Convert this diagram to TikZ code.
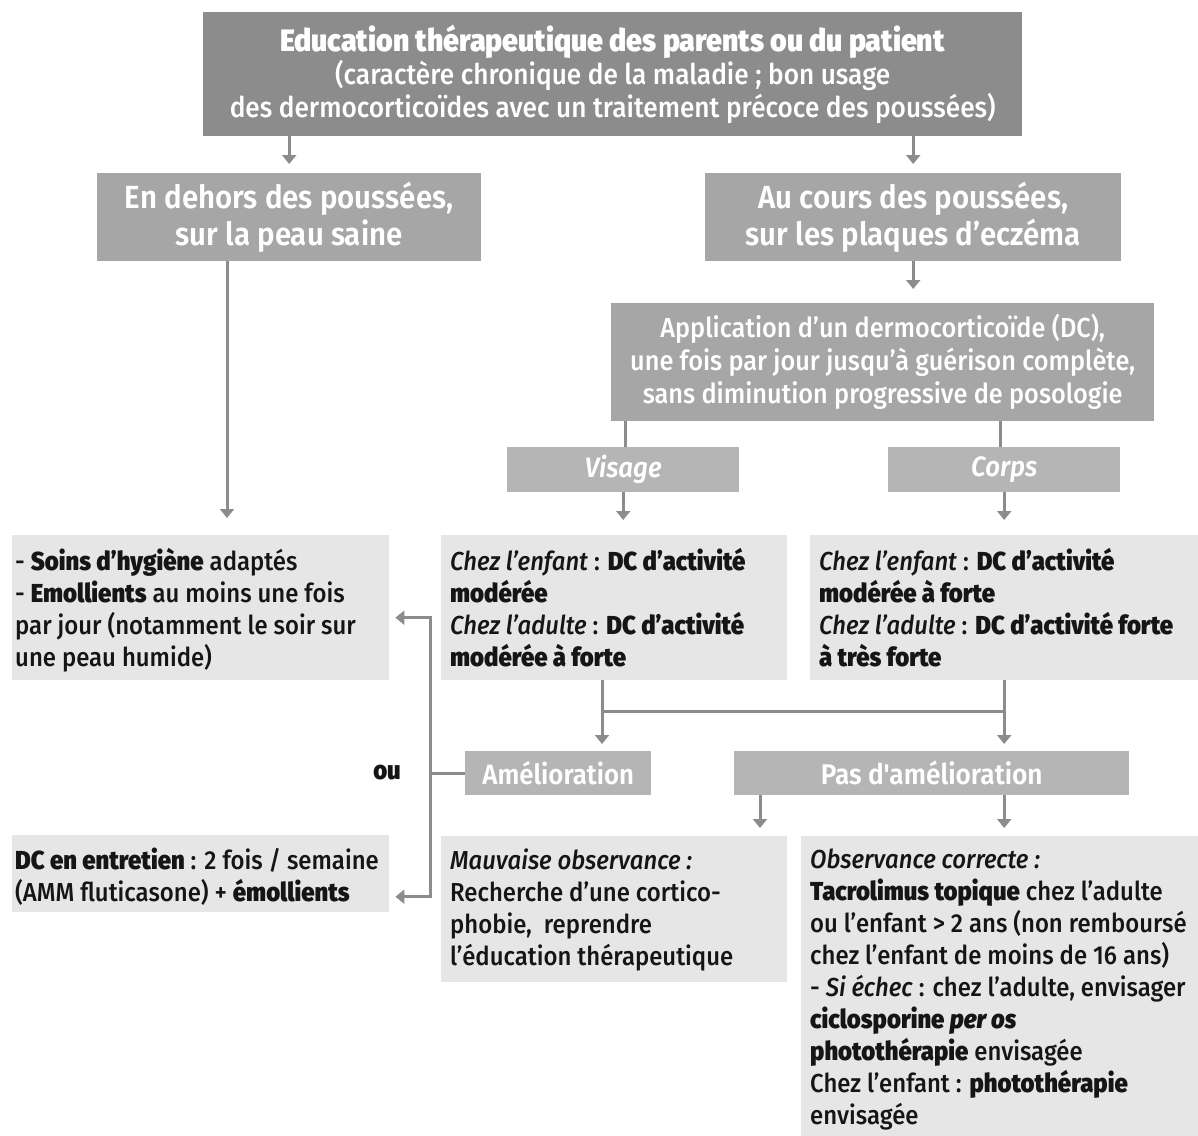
\documentclass[tikz,border=0pt]{standalone}
\usepackage{fontspec}
\setmainfont{Fira Sans Medium}[FakeStretch=0.92,
  BoldFont=Fira Sans Black, ItalicFont=Fira Sans Medium Italic,
  BoldItalicFont=Fira Sans Black Italic]
\newfontfamily\semib{Fira Sans SemiBold}[FakeStretch=0.92, ItalicFont=Fira Sans SemiBold Italic]
\usetikzlibrary{arrows.meta}
\definecolor{cTop}{HTML}{8C8C8C}
\definecolor{cMid}{HTML}{A6A6A6}
\definecolor{cLab}{HTML}{B5B5B5}
\definecolor{cLight}{HTML}{E6E6E6}
\definecolor{cArr}{HTML}{8C8C8C}
\definecolor{cTxt}{HTML}{151515}
\tikzset{
  box/.style={anchor=north west, inner sep=0pt, draw=none},
  topbox/.style={box, fill=cTop, text=white, align=center},
  midbox/.style={box, fill=cMid, text=white, align=center},
  labbox/.style={box, fill=cLab, text=white, align=center},
  lightbox/.style={box, fill=cLight},
  txt/.style={anchor=north west, inner sep=0pt, align=left, text=cTxt, font=\fontsize{26}{32}\selectfont},
  conn/.style={draw=cArr, line width=3pt},
  arr/.style={conn, -{Triangle[width=14pt,length=9pt]}},
}
\begin{document}
\begin{tikzpicture}[x=1pt,y=-1pt]
\useasboundingbox (0,0) rectangle (1198,1135);

% top box
\node[topbox, minimum width=819pt, minimum height=124pt, font=\fontsize{28.5}{33}\selectfont] (top) at (203,12)
 {{\fontsize{31}{33}\selectfont\textbf{Education thérapeutique des parents ou du patient}}\\
  (caractère chronique de la maladie ; bon usage\\
  des dermocorticoïdes avec un traitement précoce des poussées)};

\node[midbox, minimum width=384pt, minimum height=88pt, font=\fontsize{32}{37}\semib] (dehors) at (97,173)
 {En dehors des poussées,\\ sur la peau saine};
\node[midbox, minimum width=416pt, minimum height=88pt, font=\fontsize{32}{37}\semib] (cours) at (705,173)
 {Au cours des poussées,\\ sur les plaques d’eczéma};

\node[midbox, minimum width=543pt, minimum height=118pt, font=\fontsize{27.5}{33}\selectfont] (appl) at (611,303)
 {Application d’un dermocorticoïde (DC),\\
  une fois par jour jusqu’à guérison complète,\\
  sans diminution progressive de posologie};

\node[labbox, minimum width=232pt, minimum height=45pt, font=\fontsize{28}{33}\semib\itshape] (visage) at (507,447) {Visage};
\node[labbox, minimum width=232pt, minimum height=45pt, font=\fontsize{28}{33}\semib\itshape] (corps) at (888,447) {Corps};

% light boxes
\node[lightbox, minimum width=377pt, minimum height=145pt] (soins) at (12,535) {};
\node[txt] (soinsT) at ([xshift=3pt,yshift=-13pt]soins.north west)
 {- \textbf{Soins d'hygiène} adaptés\\
  - \textbf{Emollients} au moins une fois\\
  par jour (notamment le soir sur\\
  une peau humide)};

\node[lightbox, minimum width=346pt, minimum height=145pt] (vis) at (441,535) {};
\node[txt] (visT) at ([xshift=9pt,yshift=-13pt]vis.north west)
 {\textit{Chez l'enfant} : \textbf{DC d'activité}\\
  \textbf{modérée}\\
  \textit{Chez l'adulte} : \textbf{DC d'activité}\\
  \textbf{modérée à forte}};

\node[lightbox, minimum width=400pt, minimum height=145pt] (cor) at (810,535) {};
\node[txt] (corT) at ([xshift=9pt,yshift=-13pt]cor.north west)
 {\textit{Chez l'enfant} : \textbf{DC d'activité}\\
  \textbf{modérée à forte}\\
  \textit{Chez l'adulte} : \textbf{DC d'activité forte}\\
  \textbf{à très forte}};

\node[labbox, minimum width=186pt, minimum height=44pt, font=\fontsize{28}{33}\semib] (amel) at (465,751) {Amélioration};
\node[labbox, minimum width=395pt, minimum height=44pt, font=\fontsize{28.5}{33}\semib] (pas) at (734,751) {Pas d'amélioration};

\node[lightbox, minimum width=377pt, minimum height=77pt] (entr) at (12,835) {};
\node[txt] (entrT) at ([xshift=3pt,yshift=-13pt]entr.north west)
 {\textbf{DC en entretien} : 2 fois / semaine\\
  (AMM fluticasone) + \textbf{émollients}};

\node[lightbox, minimum width=346pt, minimum height=146pt] (mauv) at (441,836) {};
\node[txt] (mauvT) at ([xshift=9pt,yshift=-13pt]mauv.north west)
 {\textit{Mauvaise observance :}\\
  Recherche d’une cortico-\\
  phobie,\ \ reprendre\\
  l’éducation thérapeutique};

\node[lightbox, minimum width=410pt, minimum height=300pt] (obs) at (801,836) {};
\node[txt] (obsT) at ([xshift=9pt,yshift=-13pt]obs.north west)
 {\textit{Observance correcte :}\\
  \textbf{Tacrolimus topique} chez l'adulte\\
  ou l'enfant > 2 ans (non remboursé\\
  chez l'enfant de moins de 16 ans)\\
  - \textit{Si échec} : chez l'adulte, envisager\\
  \textbf{ciclosporine \textit{per os}}\\
  \textbf{photothérapie} envisagée\\
  Chez l'enfant : \textbf{photothérapie}\\
  envisagée};

\node[anchor=center, inner sep=0pt, text=cTxt, font=\fontsize{26}{32}\selectfont\bfseries] (ou) at (387,773) {ou};

% connectors
\draw[arr, shorten >=9pt] (top.south -| dehors.north) -- (dehors.north);
\draw[arr, shorten >=9pt] (top.south -| cours.north) -- (cours.north);
\draw[arr, shorten >=14pt] (cours.south) -- (appl.north -| cours.south);
\coordinate (dx) at ([xshift=130pt]dehors.south west);
\draw[arr, shorten >=17pt] (dx) -- (dx |- soins.north);
\coordinate (ax) at ([xshift=14pt]appl.south west);
\draw[conn] (ax) -- (ax |- visage.north);
\coordinate (bx) at ([xshift=-154pt]appl.south east);
\draw[conn] (bx) -- (bx |- corps.north);
\draw[arr, shorten >=15pt] (visage.south) -- (visage.south |- vis.north);
\draw[arr, shorten >=15pt] (corps.south) -- (corps.south |- cor.north);

\coordinate (vx) at ([xshift=161pt]vis.south west);
\coordinate (cx) at (corps.south |- cor.south);
\draw[arr, shorten >=7pt] (vx) -- (vx |- amel.north);
\draw[arr, shorten >=7pt] (cx) -- (cx |- pas.north);
\draw[conn] (vx |- 0,711) -- (cx |- 0,711);

\coordinate (lx) at ([xshift=-35pt]amel.west);
\draw[conn] (amel.west) -- (lx);
\draw[arr] (lx) |- ([xshift=6pt,yshift=-10pt]soins.east);
\draw[arr] (lx) |- ([xshift=6pt,yshift=-23pt]entr.east);

\coordinate (p1) at ([xshift=26pt]pas.south west);
\draw[arr, shorten >=8pt] (p1) -- (p1 |- mauv.north);
\draw[arr, shorten >=8pt] (cx |- pas.south) -- (cx |- obs.north);
\end{tikzpicture}
\end{document}
